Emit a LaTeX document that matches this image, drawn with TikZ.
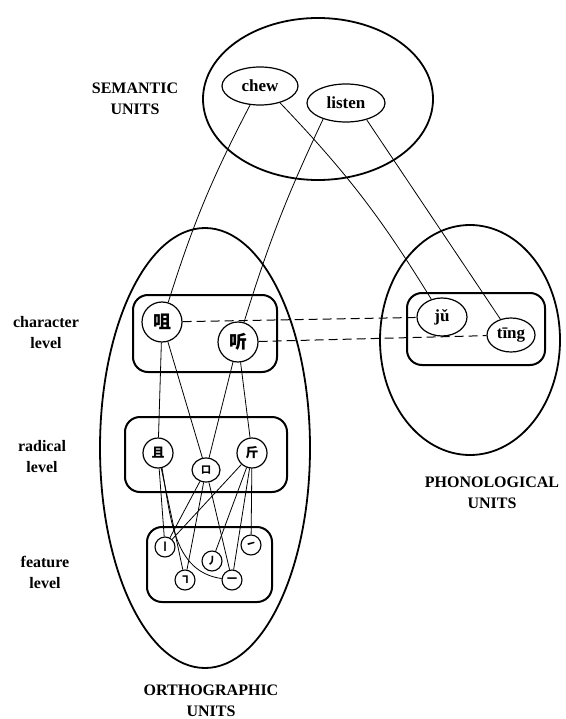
\documentclass[tikz,border=0pt]{standalone}
\usepackage{fontspec}
\setmainfont{Liberation Serif}
\newfontfamily\cjk{Noto Sans CJK SC}
\usetikzlibrary{shapes.geometric}
\begin{document}
\begin{tikzpicture}[x=1pt,y=-1pt,
  big/.style={ellipse, draw, line width=1.8pt, inner sep=0pt},
  lvlbox/.style={rectangle, draw, line width=2pt, rounded corners=15pt, inner sep=0pt},
  ell/.style={ellipse, draw, line width=1.2pt, inner sep=0pt, font=\fontsize{17}{17}\selectfont\bfseries},
  chr/.style={circle, draw, line width=1.2pt, inner sep=0pt, minimum size=40pt, font=\cjk\bfseries\fontsize{18}{18}\selectfont},
  rad/.style={circle, draw, line width=1.2pt, inner sep=0pt, minimum size=30pt, font=\cjk\bfseries\fontsize{13}{13}\selectfont},
  feat/.style={circle, draw, line width=1.1pt, inner sep=0pt, minimum size=20pt, font=\cjk\bfseries\fontsize{10}{10}\selectfont},
  lab/.style={font=\fontsize{16}{21}\selectfont\bfseries, align=center, inner sep=0pt},
  link/.style={line width=0.8pt},
  dlink/.style={line width=1pt, dash pattern=on 9pt off 5pt},
]
\useasboundingbox (0,0) rectangle (565,719);

% large unit ellipses
\node[big, minimum width=230pt, minimum height=162pt] (sem) at (318,99) {};
\node[big, minimum width=210pt, minimum height=440pt] (orth) at (205,448) {};
\node[big, minimum width=180pt, minimum height=230pt] (phon) at (470,340) {};

% level boxes
\node[lvlbox, minimum width=144pt, minimum height=77pt] (charbox) at (205,333.5) {};
\node[lvlbox, minimum width=162pt, minimum height=75pt] (radbox) at (206,454.5) {};
\node[lvlbox, minimum width=125pt, minimum height=75pt] (featbox) at (209.5,564.5) {};
\node[lvlbox, minimum width=138pt, minimum height=72pt] (phonbox) at (476,329) {};

% labels
\node[lab] (semlab) at (135,99) {SEMANTIC\\UNITS};
\node[lab] (phonlab) at (492,493) {PHONOLOGICAL\\UNITS};
\node[lab] (orthlab) at (211,701) {ORTHOGRAPHIC\\UNITS};
\node[lab] (charlab) at (46,333) {character\\level};
\node[lab] (radlab) at (42,457) {radical\\level};
\node[lab] (featlab) at (45,572) {feature\\level};

% semantic nodes
\node[ell, minimum width=76pt, minimum height=38pt] (chew) at (260,86) {chew};
\node[ell, minimum width=78pt, minimum height=38pt] (listen) at (346,103) {listen};

% phonological nodes
\node[ell, minimum width=50pt, minimum height=38pt] (ju) at (442,317) {jǔ};
\node[ell, minimum width=48pt, minimum height=34pt] (ting) at (511,335) {tīng};

% character nodes
\node[chr] (zu) at (162,322) {咀};
\node[chr] (tingc) at (238,342) {听};

% radical nodes
\node[rad] (qie) at (158,453) {且};
\node[ellipse, draw, line width=1.2pt, inner sep=0pt, minimum width=28pt, minimum height=24pt, font=\cjk\bfseries\fontsize{10}{10}\selectfont] (kou) at (206,470) {口};
\node[rad] (jin) at (252,453) {斤};

% feature nodes
\node[feat] (shu) at (165,547) {丨};
\node[feat] (ti) at (251,545) {㇀};
\node[feat] (pie) at (212,561) {丿};
\node[feat] (hz) at (185,580) {㇕};
\node[feat] (heng) at (232,580) {一};

% semantic connections
\draw[link] (chew) to[bend right=5] (zu);
\draw[link] (chew.-40) to[bend left=6] (ju);
\draw[link] (listen.-145) to[bend right=4] (tingc);
\draw[link] (listen.-39) -- (ting);

% phonological connections
\draw[dlink] (zu) -- (ju);
\draw[dlink] (tingc) -- (ting);

% character to radical
\draw[link] (zu) -- (qie);
\draw[link] (zu) -- (kou);
\draw[link] (tingc) -- (kou);
\draw[link] (tingc) -- (jin);

% radical to feature
\draw[link] (qie) -- (shu);
\draw[link] (qie) -- (hz);
\draw[link] (qie.-75) to[out=-80,in=172] (heng);
\draw[link] (kou) -- (shu);
\draw[link] (kou) -- (hz);
\draw[link] (kou) -- (heng);
\draw[link] (jin) -- (shu);
\draw[link] (jin) -- (pie);
\draw[link] (jin) -- (heng);
\draw[link] (jin) -- (ti);
\end{tikzpicture}
\end{document}
